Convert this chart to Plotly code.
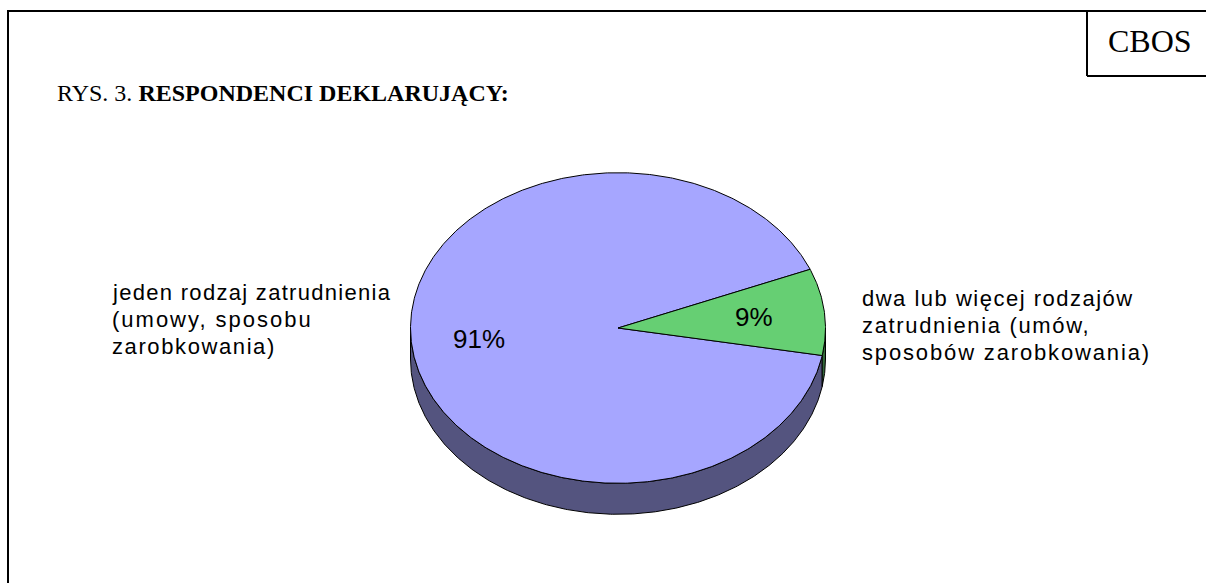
import numpy as np
import plotly.graph_objects as go

categories = ["jeden rodzaj zatrudnienia (umowy, sposobu zarobkowania)",
              "dwa lub więcej rodzajów zatrudnienia (umów, sposobów zarobkowania)"]
label_lines = [["jeden rodzaj zatrudnienia", "(umowy, sposobu", "zarobkowania)"],
               ["dwa lub więcej rodzajów", "zatrudnienia (umów,", "sposobów zarobkowania)"]]
values = [91, 9]
title_plain = "RYS. 3. "
title_bold = "RESPONDENCI DEKLARUJĄCY:"
badge = "CBOS"

W, H = 1206, 583
CX, CY, RX, RY, DEPTH = 618.0, 328.0, 207.5, 155.3, 31.0
START = 22.2  # angle where the first slice begins, degrees, running counter-clockwise

TOP = ["#A6A6FF", "#66CF73"]
SIDE = ["#54547F", "#33683A"]
EDGE = "#000000"


def rim(a0, a1, dy=0.0):
    t = np.radians(np.linspace(a0, a1, max(int(abs(a1 - a0) * 2), 2)))
    return CX + RX * np.cos(t), CY - RY * np.sin(t) + dy


total = sum(values)
spans = []
a = START
for v in values:
    b = a + 360 * v / total
    spans.append((a, b))
    a = b

fig = go.Figure()

# outer wall: only the front half of the rim (180..360 degrees) is visible
for (a0, b0), colour in zip(spans, SIDE):
    for shift in (-360, 0, 360):
        lo, hi = max(a0 + shift, 180), min(b0 + shift, 360)
        if hi > lo:
            xt, yt = rim(lo, hi)
            xb, yb = rim(hi, lo, DEPTH)
            fig.add_trace(go.Scatter(
                x=np.r_[xt, xb, xt[0]], y=np.r_[yt, yb, yt[0]],
                mode="lines", fill="toself", fillcolor=colour,
                line=dict(color=EDGE, width=1), hoverinfo="skip", showlegend=False))

# top face
for (a0, b0), colour, name in zip(spans, TOP, categories):
    xr, yr = rim(a0, b0)
    fig.add_trace(go.Scatter(
        x=np.r_[CX, xr, CX], y=np.r_[CY, yr, CY],
        mode="lines", fill="toself", fillcolor=colour, name=name,
        line=dict(color=EDGE, width=1), hoverinfo="name", showlegend=False))

SPACED = '<span style="letter-spacing:%.2fpx">%s</span>'


def note(x, y, text, size, family="Liberation Sans", anchor="left"):
    fig.add_annotation(x=x, y=y, text=text, showarrow=False, xanchor=anchor, yanchor="middle",
                       align="left", font=dict(family=family, size=size, color="#000000"),
                       borderpad=0, borderwidth=0)


for line, y, sp in zip(label_lines[0], (292, 319, 346), (1.3, 2.0, 1.6)):
    note(112, y, SPACED % (sp, line), 22)
for line, y, sp in zip(label_lines[1], (298, 325, 352), (1.5, 1.65, 1.85)):
    note(862, y, SPACED % (sp, line), 22)

note(478.5, 339, f"{values[0]}%", 26, anchor="center")
note(754, 317, f"{values[1]}%", 26, anchor="center")
note(57, 93, f"{title_plain}<b>{title_bold}</b>", 24, "Liberation Serif")
note(1150, 41, badge, 32, "Liberation Serif", "center")

frame = dict(color="#000000", width=2)
for x0, y0, x1, y1 in [(8, 11, W, 11), (8, 10, 8, H), (1087, 11, 1087, 76), (1087, 76, W, 76)]:
    fig.add_shape(type="line", x0=x0, y0=y0, x1=x1, y1=y1, line=frame)

fig.update_xaxes(visible=False, range=[0, W], fixedrange=True)
fig.update_yaxes(visible=False, range=[H, 0], fixedrange=True)
fig.update_layout(width=W, height=H, margin=dict(l=0, r=0, t=0, b=0),
                  paper_bgcolor="#FFFFFF", plot_bgcolor="#FFFFFF", showlegend=False)
fig.write_html("out.html", config=dict(displayModeBar=False),
               post_script="document.body.style.margin='0';document.body.style.overflow='hidden';")
